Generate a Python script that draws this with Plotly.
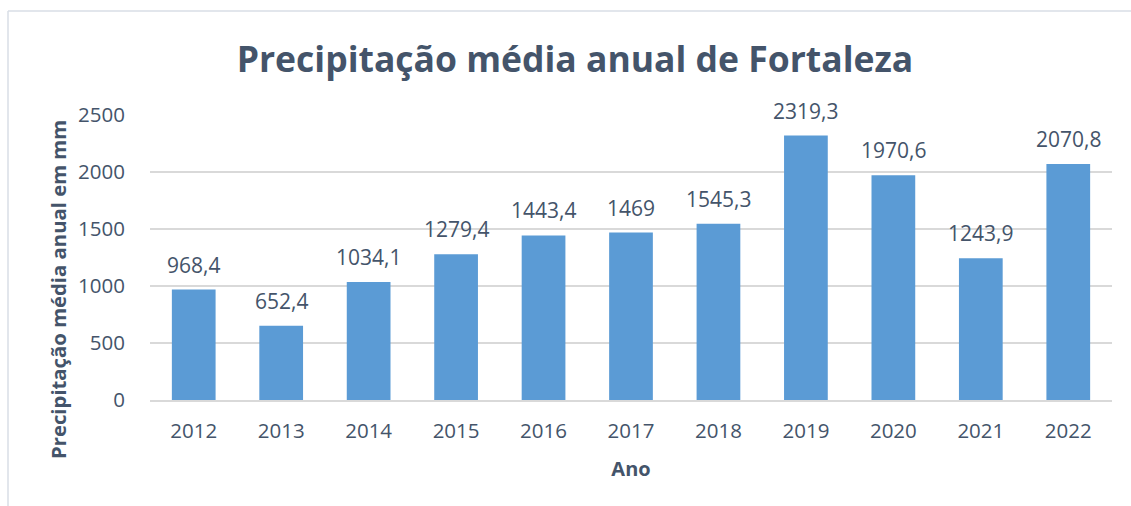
import plotly.graph_objects as go

anos = ["2012", "2013", "2014", "2015", "2016", "2017", "2018", "2019", "2020", "2021", "2022"]
precipitacao = [968.4, 652.4, 1034.1, 1279.4, 1443.4, 1469, 1545.3, 2319.3, 1970.6, 1243.9, 2070.8]
rotulos = ["968,4", "652,4", "1034,1", "1279,4", "1443,4", "1469", "1545,3", "2319,3", "1970,6", "1243,9", "2070,8"]
y_ticks = [0, 500, 1000, 1500, 2000, 2500]

TXT = "#44546A"
FONT = "Open Sans"

fig = go.Figure()
fig.add_trace(go.Bar(
    x=anos, y=precipitacao,
    marker=dict(color="#5B9BD5", line=dict(width=0)),
))

W, H = 1131, 506
ml, mr, mt, mb = 150, 19, 115, 106
pw = W - ml - mr
ph = H - mt - mb

# category axis: annotation x given as category index
annotations = [
    dict(x=i, y=v, xref="x", yref="y", text=t, showarrow=False,
         yanchor="middle", yshift=25,
         font=dict(family=FONT, size=21, color=TXT))
    for i, (v, t) in enumerate(zip(precipitacao, rotulos))
]
annotations.append(dict(
    text="<b>Precipitação média anual em mm</b>", textangle=-90,
    xref="paper", yref="paper", x=(58 - ml) / pw, y=(H - 290 - mb) / ph,
    xanchor="center", yanchor="middle", showarrow=False,
    font=dict(family=FONT, size=20.3, color=TXT)))

fig.update_layout(
    width=W, height=H,
    margin=dict(l=ml, r=mr, t=mt, b=mb),
    paper_bgcolor="white", plot_bgcolor="white",
    bargap=0.5,
    showlegend=False,
    annotations=annotations,
    title=dict(text="<b>Precipitação média anual de Fortaleza</b>",
               x=575 / W, xref="container", xanchor="center",
               y=1 - 60 / H, yanchor="middle",
               font=dict(family=FONT, size=35.5, color=TXT)),
    xaxis=dict(
        type="category", categoryorder="array", categoryarray=anos,
        tickfont=dict(family=FONT, size=20.5, color=TXT),
        showgrid=False, showline=True, linecolor="#D9D9D9", linewidth=2,
        ticks="", ticklabelstandoff=11,
        title=dict(text="<b>Ano</b>", font=dict(family=FONT, size=20, color=TXT), standoff=19),
    ),
    yaxis=dict(
        range=[0, 2500], tickvals=y_ticks,
        tickfont=dict(family=FONT, size=20.5, color=TXT),
        showgrid=True, gridcolor="#D9D9D9", gridwidth=1.5,
        zeroline=False, showline=False, ticks="", ticklabelstandoff=24,
    ),
    shapes=[
        dict(type="line", xref="paper", yref="paper",
             x0=(8 - ml) / pw, x1=(W + 5 - ml) / pw,
             y0=(H - 11 - mb) / ph, y1=(H - 11 - mb) / ph,
             line=dict(color="#D9DEE6", width=1.5)),
        dict(type="line", xref="paper", yref="paper",
             x0=(8 - ml) / pw, x1=(8 - ml) / pw,
             y0=(H - 11 - mb) / ph, y1=(-5 - mb) / ph,
             line=dict(color="#D9DEE6", width=1.5)),
    ],
)

fig.write_html("out.html", config={"displayModeBar": False},
               post_script="document.body.style.margin='0';")
